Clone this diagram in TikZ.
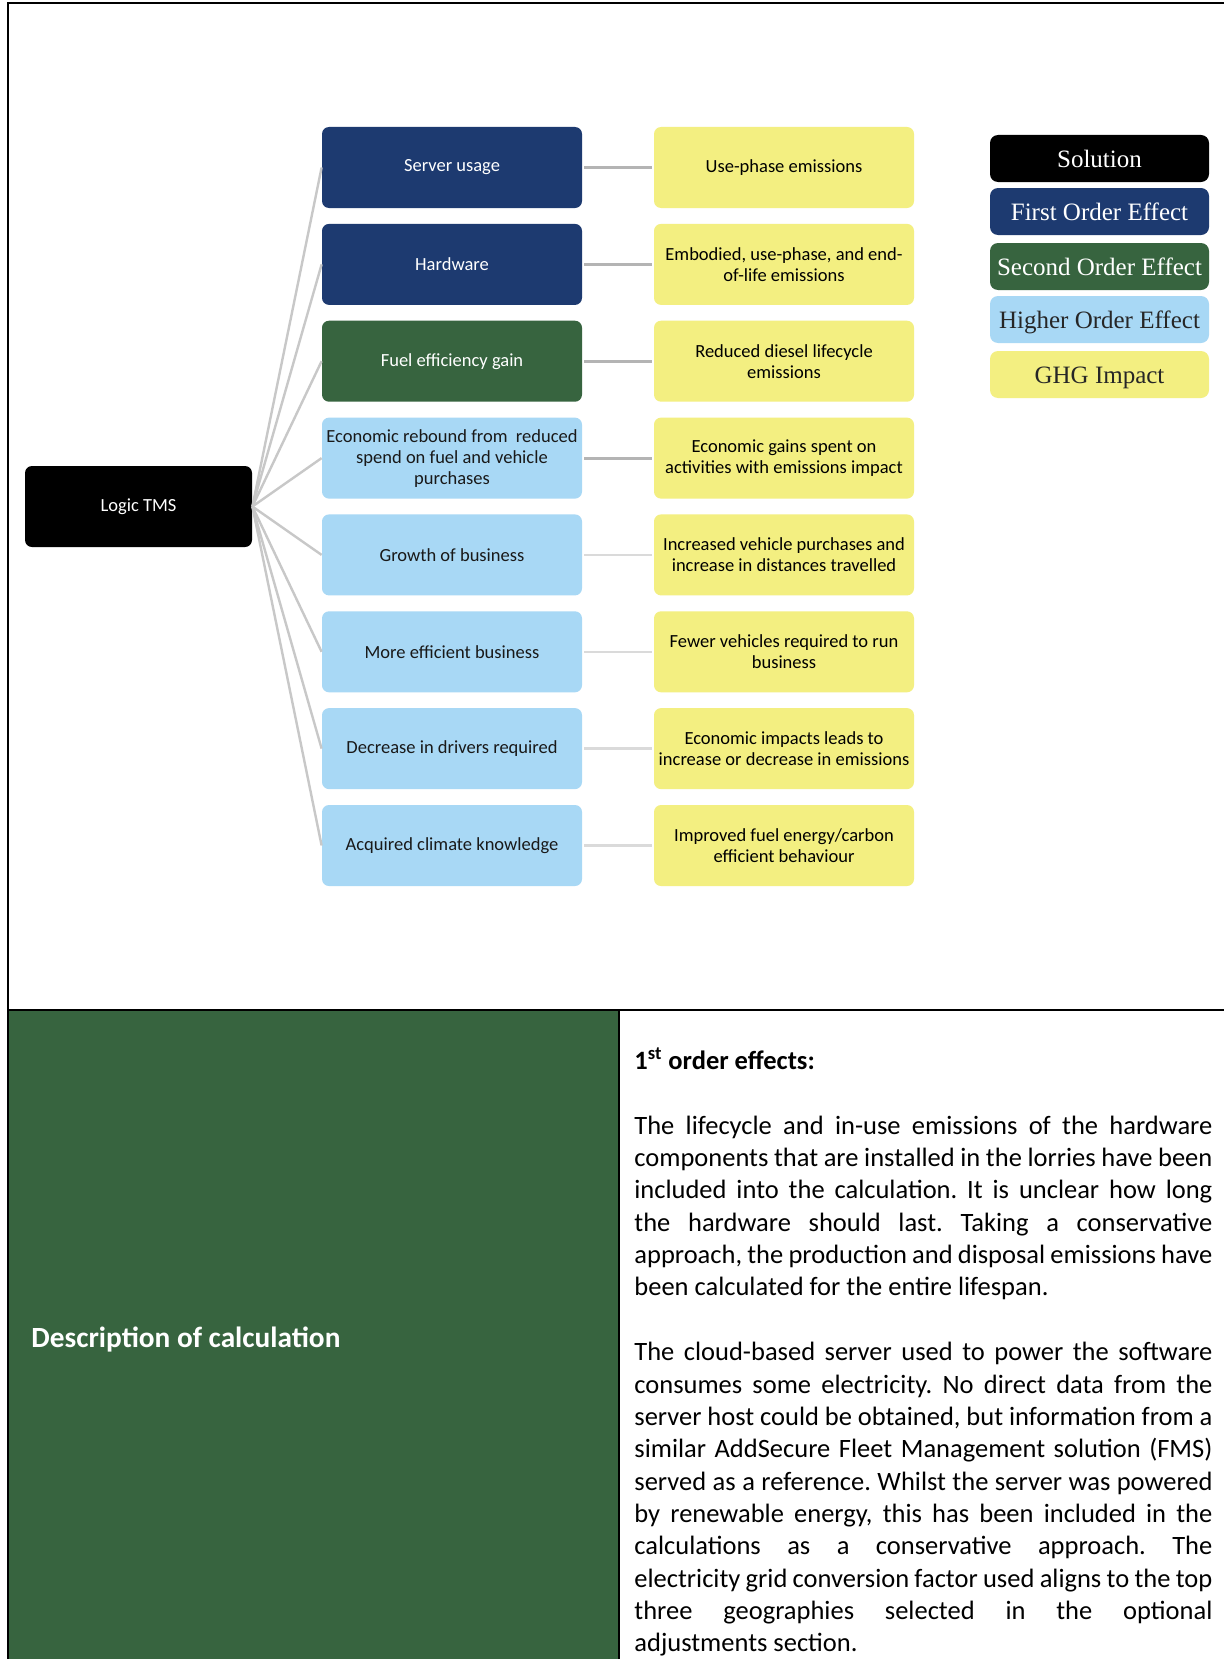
\documentclass[tikz,border=0pt]{standalone}
\usepackage{fontspec}
\setmainfont{Carlito}
\newfontfamily\legendfont{Liberation Serif}
\definecolor{navyc}{HTML}{1D3A70}
\definecolor{greenc}{HTML}{37643F}
\definecolor{lblue}{HTML}{A8D8F5}
\definecolor{yell}{HTML}{F3EF81}
\definecolor{fang}{HTML}{C8C8C8}
\definecolor{hdark}{HTML}{B4B4B4}
\definecolor{hlight}{HTML}{DADADA}
\frenchspacing
\begin{document}
\begin{tikzpicture}[x=0.5pt,y=-0.5pt,
  box/.style={rounded corners=3.5pt, minimum width=130pt, minimum height=40.5pt,
    inner sep=0.5pt, align=center,
    font=\fontsize{9.25}{10.5}\selectfont},
  solbox/.style={box, fill=black, text=white, minimum width=113.5pt},
  firstbox/.style={box, fill=navyc, text=white},
  secbox/.style={box, fill=greenc, text=white},
  highbox/.style={box, fill=lblue, text=black!90},
  ghgbox/.style={box, fill=yell, text=black},
  legbox/.style={rounded corners=4pt, minimum width=109.5pt, minimum height=23.5pt,
    inner sep=0pt, text height=0.92em, text depth=0pt,
    font=\legendfont\fontsize{12.5}{14}\selectfont},
  fan/.style={draw=fang, line width=1.2pt},
  hdk/.style={draw=hdark, line width=1.4pt},
  hlt/.style={draw=hlight, line width=1.2pt},
  frame/.style={draw=black, line width=1pt},
  jline/.style={anchor=base west, inner sep=0pt, font=\fontsize{13.25}{16.3}\selectfont},
]
\useasboundingbox (0,0) rectangle (1224,1659);
\clip (0,0) rectangle (1224,1659);
\fill[white] (0,0) rectangle (1224,1659);

% lower table
\fill[greenc] (8,1010) rectangle (619,1670);
\draw[frame] (8,1700) -- (8,3) -- (1240,3);
\draw[frame] (8,1010) -- (1240,1010);
\draw[frame] (619,1010) -- (619,1700);

% solution
\node[solbox] (logic) at (138.5,506.5) {Logic TMS};

% effects
\node[firstbox] (e1) at (452,167.5) {Server usage};
\node[firstbox] (e2) at (452,264.4) {Hardware};
\node[secbox]   (e3) at (452,361.2) {Fuel efficiency gain};
\node[highbox]  (e4) at (452,458.1) {Economic rebound from~ reduced\\spend on fuel and vehicle\\purchases};
\node[highbox]  (e5) at (452,554.9) {Growth of business};
\node[highbox]  (e6) at (452,651.8) {More efficient business};
\node[highbox]  (e7) at (452,748.6) {Decrease in drivers required};
\node[highbox]  (e8) at (452,845.5) {Acquired climate knowledge};

% impacts
\node[ghgbox] (g1) at (784,167.5) {Use-phase emissions};
\node[ghgbox] (g2) at (784,264.4) {Embodied, use-phase, and end-\\of-life emissions};
\node[ghgbox] (g3) at (784,361.2) {Reduced diesel lifecycle\\emissions};
\node[ghgbox] (g4) at (784,458.1) {Economic gains spent on\\activities with emissions impact};
\node[ghgbox] (g5) at (784,554.9) {Increased vehicle purchases and\\increase in distances travelled};
\node[ghgbox] (g6) at (784,651.8) {Fewer vehicles required to run\\business};
\node[ghgbox] (g7) at (784,748.6) {Economic impacts leads to\\increase or decrease in emissions};
\node[ghgbox] (g8) at (784,845.5) {Improved fuel energy/carbon\\efficient behaviour};

% connectors
\foreach \i in {1,...,8} {\draw[fan] (logic.east) -- (e\i.west);}
\foreach \i in {1,...,4} {\draw[hdk] ([xshift=1pt]e\i.east) -- ([xshift=-1pt]g\i.west);}
\foreach \i in {5,...,8} {\draw[hlt] ([xshift=1pt]e\i.east) -- ([xshift=-1pt]g\i.west);}

% legend
\node[legbox, fill=black, text=white] (l1) at (1099.5,158.5) {Solution};
\node[legbox, fill=navyc, text=white] (l2) at (1099.5,211.5) {First Order Effect};
\node[legbox, fill=greenc, text=white] (l3) at (1099.5,266.5) {Second Order Effect};
\node[legbox, fill=lblue, text=black!85] (l4) at (1099.5,319.5) {Higher Order Effect};
\node[legbox, fill=yell, text=black!85] (l5) at (1099.5,374.5) {GHG Impact};

% description
\node[anchor=base west, inner sep=0pt, text=white, font=\bfseries\fontsize{14.65}{17}\selectfont] (desc) at (31,1347) {Description of calculation};

\node[jline, font=\bfseries\fontsize{13.25}{16.3}\selectfont] (head) at (634,1069.5) {1\textsuperscript{st} order effects:};

\foreach \t [count=\i from 0] in {
  {The lifecycle and in-use emissions of the hardware},
  {components that are installed in the lorries have been},
  {included into the calculation. It is unclear how long},
  {the hardware should last. Taking a conservative},
  {approach, the production and disposal emissions have}}
  {\node[jline] (pa\i) at (634,1134.2+32.35*\i) {\makebox[289pt][s]{\t}};}
\node[jline] (pa5) at (634,1295.95) {been calculated for the entire lifespan.};

\foreach \t [count=\i from 0] in {
  {The cloud-based server used to power the software},
  {consumes some electricity. No direct data from the},
  {server host could be obtained, but information from a},
  {similar AddSecure Fleet Management solution (FMS)},
  {served as a reference. Whilst the server was powered},
  {by renewable energy, this has been included in the},
  {calculations as a conservative approach. The},
  {electricity grid conversion factor used aligns to the top},
  {three geographies selected in the optional}}
  {\node[jline] (pb\i) at (634,1360.65+32.35*\i) {\makebox[289pt][s]{\t}};}
\node[jline] (pb9) at (634,1651.8) {adjustments section.};
\end{tikzpicture}
\end{document}
